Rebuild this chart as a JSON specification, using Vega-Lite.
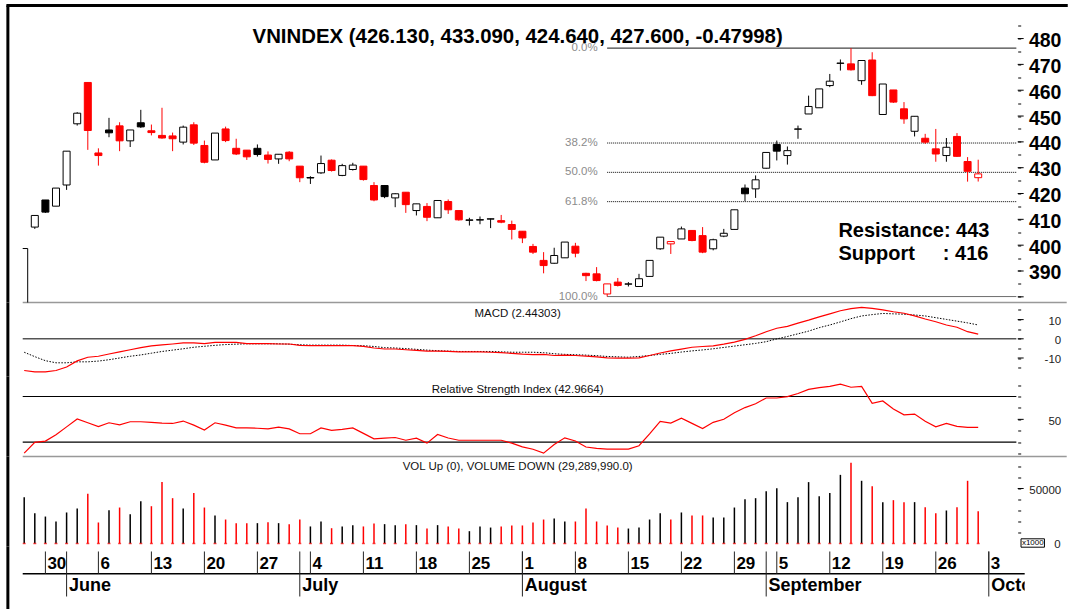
{
"$schema": "https://vega.github.io/schema/vega-lite/v6.json",
"background": "white",
"padding": {"left": 4.7, "top": 3.5, "right": 0, "bottom": 0},
"bounds": "flush",
"spacing": 0,
"config": {"view": {"stroke": null}, "font": "Liberation Sans", "axis": {"grid": false, "domain": false, "tickColor": "#000000", "tickWidth": 1, "tickSize": 3, "labelOverlap": false, "labelFlush": false, "labelBound": false}},
"resolve": {"scale": {"x": "independent", "y": "independent"}},
"datasets": {
"d": [
{"i":-2,"v":42100,"m":-16.5,"s":-7.0,"r":20.5},
{"i":-1,"o":407.0,"h":411.5,"l":406.3,"c":411.5,"v":27600,"m":-17.2,"s":-9.3,"r":29.8},
{"i":0,"o":417.5,"h":417.5,"l":412.5,"c":412.8,"v":24500,"m":-17.2,"s":-11.4,"r":31.0},
{"i":1,"o":415.1,"h":422.1,"l":415.1,"c":422.1,"v":20000,"m":-16.5,"s":-12.5,"r":36.5},
{"i":2,"o":423.3,"h":436.4,"l":421.4,"c":436.4,"v":28200,"m":-14.7,"s":-12.5,"r":43.4},
{"i":3,"o":447.0,"h":451.5,"l":446.3,"c":451.1,"v":31800,"m":-11.5,"s":-12.0,"r":50.3},
{"i":4,"o":463.0,"h":463.0,"l":436.9,"c":444.4,"v":45200,"m":-9.6,"s":-12.0,"r":47.0},
{"i":5,"o":435.7,"h":437.5,"l":430.8,"c":434.7,"v":19100,"m":-9.1,"s":-11.6,"r":43.7},
{"i":6,"o":444.6,"h":449.3,"l":441.8,"c":443.5,"v":30300,"m":-7.9,"s":-10.9,"r":47.0},
{"i":7,"o":446.2,"h":447.6,"l":436.4,"c":440.4,"v":32700,"m":-6.8,"s":-10.0,"r":45.2},
{"i":8,"o":440.4,"h":444.6,"l":438.0,"c":444.6,"v":26700,"m":-5.7,"s":-9.1,"r":47.9},
{"i":9,"o":447.4,"h":452.4,"l":445.4,"c":445.8,"v":38500,"m":-4.6,"s":-8.4,"r":47.9},
{"i":10,"o":444.3,"h":446.7,"l":442.5,"c":443.6,"v":33900,"m":-3.7,"s":-7.5,"r":47.3},
{"i":11,"o":442.5,"h":453.2,"l":441.2,"c":441.5,"v":55800,"m":-3.2,"s":-6.6,"r":46.7},
{"i":12,"o":442.3,"h":443.6,"l":436.4,"c":441.2,"v":41200,"m":-2.7,"s":-5.9,"r":46.4},
{"i":13,"o":439.9,"h":446.3,"l":439.0,"c":445.7,"v":31800,"m":-2.1,"s":-5.2,"r":48.5},
{"i":14,"o":446.6,"h":447.6,"l":438.8,"c":439.5,"v":45800,"m":-2.1,"s":-4.4,"r":44.9},
{"i":15,"o":438.6,"h":440.5,"l":431.7,"c":432.1,"v":32700,"m":-2.5,"s":-3.9,"r":40.7},
{"i":16,"o":433.0,"h":443.4,"l":433.0,"c":443.4,"v":25500,"m":-1.9,"s":-3.4,"r":47.0},
{"i":17,"o":445.0,"h":445.9,"l":439.9,"c":440.5,"v":21800,"m":-1.9,"s":-3.0,"r":44.9},
{"i":18,"o":437.5,"h":441.2,"l":434.9,"c":435.3,"v":18500,"m":-1.9,"s":-2.8,"r":42.5},
{"i":19,"o":436.8,"h":436.8,"l":433.0,"c":434.2,"v":18500,"m":-2.5,"s":-2.6,"r":42.5},
{"i":20,"o":437.5,"h":439.0,"l":434.3,"c":435.1,"v":18500,"m":-2.5,"s":-2.6,"r":42.2},
{"i":21,"o":434.9,"h":436.3,"l":431.6,"c":433.2,"v":19400,"m":-2.5,"s":-2.6,"r":41.6},
{"i":22,"o":433.4,"h":435.2,"l":431.5,"c":435.2,"v":18500,"m":-2.7,"s":-2.6,"r":43.1},
{"i":23,"o":436.0,"h":436.4,"l":432.5,"c":433.4,"v":17600,"m":-2.7,"s":-2.8,"r":41.6},
{"i":24,"o":430.6,"h":430.6,"l":424.4,"c":426.1,"v":21800,"m":-3.4,"s":-3.1,"r":37.4},
{"i":25,"o":426.0,"h":426.7,"l":423.7,"c":426.2,"v":15500,"m":-3.6,"s":-3.3,"r":37.4},
{"i":26,"o":428.0,"h":434.7,"l":427.6,"c":431.6,"v":20000,"m":-3.6,"s":-3.3,"r":42.5},
{"i":27,"o":432.9,"h":433.2,"l":428.5,"c":428.9,"v":13900,"m":-3.6,"s":-3.3,"r":40.4},
{"i":28,"o":427.0,"h":431.5,"l":426.7,"c":430.8,"v":15500,"m":-3.6,"s":-3.3,"r":41.3},
{"i":29,"o":429.3,"h":431.9,"l":428.9,"c":431.0,"v":16700,"m":-3.6,"s":-3.5,"r":42.5},
{"i":30,"o":430.6,"h":430.6,"l":425.0,"c":425.4,"v":15500,"m":-3.9,"s":-3.6,"r":37.7},
{"i":31,"o":423.1,"h":424.4,"l":417.0,"c":417.5,"v":18200,"m":-4.8,"s":-4.0,"r":32.9},
{"i":32,"o":423.1,"h":423.3,"l":418.2,"c":418.8,"v":17600,"m":-5.3,"s":-4.6,"r":33.5},
{"i":33,"o":418.3,"h":420.1,"l":414.7,"c":419.9,"v":16700,"m":-5.3,"s":-4.8,"r":34.1},
{"i":34,"o":420.5,"h":420.5,"l":412.5,"c":415.7,"v":17600,"m":-5.7,"s":-5.1,"r":31.7},
{"i":35,"o":413.4,"h":416.0,"l":411.5,"c":416.0,"v":16700,"m":-6.0,"s":-5.5,"r":33.5},
{"i":36,"o":415.0,"h":416.3,"l":409.3,"c":410.8,"v":13600,"m":-6.4,"s":-5.9,"r":29.2},
{"i":37,"o":410.6,"h":417.3,"l":410.6,"c":417.3,"v":16700,"m":-6.4,"s":-6.2,"r":36.7},
{"i":38,"o":416.9,"h":417.7,"l":412.1,"c":413.7,"v":15500,"m":-6.6,"s":-6.4,"r":33.7},
{"i":39,"o":413.4,"h":413.4,"l":409.5,"c":409.8,"v":13600,"m":-6.8,"s":-6.6,"r":31.7},
{"i":40,"o":409.6,"h":410.6,"l":407.6,"c":409.8,"v":11200,"m":-6.8,"s":-6.6,"r":31.7},
{"i":41,"o":409.7,"h":411.1,"l":408.1,"c":409.9,"v":15500,"m":-6.8,"s":-6.6,"r":31.7},
{"i":42,"o":410.1,"h":410.3,"l":406.6,"c":410.2,"v":14500,"m":-7.0,"s":-6.6,"r":31.7},
{"i":43,"o":409.5,"h":411.7,"l":408.5,"c":408.9,"v":15500,"m":-7.2,"s":-6.8,"r":31.7},
{"i":44,"o":408.0,"h":409.5,"l":402.2,"c":406.1,"v":16400,"m":-7.6,"s":-7.0,"r":29.2},
{"i":45,"o":405.4,"h":405.4,"l":400.8,"c":402.8,"v":16400,"m":-8.0,"s":-7.0,"r":25.9},
{"i":46,"o":399.5,"h":400.5,"l":396.6,"c":397.3,"v":19100,"m":-8.2,"s":-7.0,"r":23.8},
{"i":47,"o":394.1,"h":397.3,"l":389.1,"c":392.1,"v":21800,"m":-8.1,"s":-7.2,"r":20.4},
{"i":48,"o":393.0,"h":399.0,"l":392.8,"c":396.0,"v":22700,"m":-8.7,"s":-7.8,"r":27.9},
{"i":49,"o":395.1,"h":401.2,"l":395.1,"c":401.2,"v":20000,"m":-8.5,"s":-8.1,"r":33.8},
{"i":50,"o":399.6,"h":400.9,"l":395.3,"c":396.9,"v":20000,"m":-8.7,"s":-8.3,"r":31.1},
{"i":51,"o":389.1,"h":389.3,"l":386.1,"c":388.2,"v":31800,"m":-9.0,"s":-8.5,"r":25.8},
{"i":52,"o":388.9,"h":391.5,"l":386.0,"c":386.3,"v":20000,"m":-9.4,"s":-8.8,"r":24.6},
{"i":53,"o":381.1,"h":385.0,"l":380.1,"c":385.0,"v":16400,"m":-9.9,"s":-9.2,"r":24.0},
{"i":54,"o":385.7,"h":387.3,"l":384.0,"c":384.4,"v":14500,"m":-10.1,"s":-9.4,"r":24.0},
{"i":55,"o":384.9,"h":385.7,"l":384.0,"c":385.0,"v":13600,"m":-10.1,"s":-9.6,"r":24.0},
{"i":56,"o":384.0,"h":388.9,"l":384.0,"c":387.0,"v":14500,"m":-9.9,"s":-9.2,"r":26.9},
{"i":57,"o":387.9,"h":394.1,"l":387.9,"c":394.1,"v":21800,"m":-8.7,"s":-8.7,"r":37.2},
{"i":58,"o":398.6,"h":403.1,"l":398.2,"c":403.1,"v":27600,"m":-7.4,"s":-8.1,"r":48.3},
{"i":59,"o":400.5,"h":401.4,"l":396.6,"c":401.4,"v":21800,"m":-6.3,"s":-7.6,"r":46.8},
{"i":60,"o":402.4,"h":407.2,"l":402.4,"c":406.3,"v":28200,"m":-5.4,"s":-6.9,"r":51.0},
{"i":61,"o":405.7,"h":405.7,"l":401.5,"c":401.8,"v":25500,"m":-4.4,"s":-6.3,"r":46.5},
{"i":62,"o":403.7,"h":407.0,"l":396.9,"c":397.3,"v":25500,"m":-4.0,"s":-5.8,"r":42.0},
{"i":63,"o":398.6,"h":402.5,"l":398.0,"c":402.1,"v":23600,"m":-3.7,"s":-5.2,"r":47.4},
{"i":64,"o":403.5,"h":406.3,"l":403.1,"c":404.6,"v":23600,"m":-2.8,"s":-4.5,"r":50.1},
{"i":65,"o":406.1,"h":413.7,"l":406.1,"c":413.7,"v":32700,"m":-1.7,"s":-3.8,"r":55.8},
{"i":66,"o":422.1,"h":423.5,"l":417.0,"c":419.9,"v":40300,"m":-0.3,"s":-3.1,"r":60.3},
{"i":67,"o":421.8,"h":427.0,"l":418.3,"c":425.3,"v":41200,"m":1.6,"s":-2.4,"r":63.6},
{"i":68,"o":429.8,"h":435.9,"l":429.6,"c":435.9,"v":47600,"m":3.7,"s":-1.5,"r":68.7},
{"i":69,"o":439.0,"h":440.5,"l":432.8,"c":436.4,"v":50300,"m":5.5,"s":-0.05,"r":68.7},
{"i":70,"o":434.7,"h":438.2,"l":431.2,"c":436.6,"v":37600,"m":6.5,"s":1.2,"r":69.9},
{"i":71,"o":444.9,"h":446.3,"l":441.2,"c":445.0,"v":42100,"m":8.2,"s":2.6,"r":72.6},
{"i":72,"o":450.8,"h":457.9,"l":450.8,"c":453.7,"v":55800,"m":9.7,"s":4.0,"r":76.2},
{"i":73,"o":453.2,"h":460.5,"l":453.2,"c":460.5,"v":43000,"m":11.4,"s":5.8,"r":77.7},
{"i":74,"o":461.8,"h":466.3,"l":461.2,"c":463.5,"v":45800,"m":13.0,"s":7.2,"r":78.9},
{"i":75,"o":470.4,"h":471.9,"l":467.6,"c":470.5,"v":62400,"m":14.6,"s":8.8,"r":80.8},
{"i":76,"o":470.2,"h":476.3,"l":467.6,"c":467.9,"v":73300,"m":15.7,"s":10.5,"r":78.1},
{"i":77,"o":463.7,"h":471.5,"l":462.1,"c":471.5,"v":57000,"m":16.4,"s":11.9,"r":78.9},
{"i":78,"o":471.7,"h":474.7,"l":457.7,"c":457.9,"v":52100,"m":15.8,"s":12.6,"r":64.0},
{"i":79,"o":450.6,"h":462.4,"l":450.6,"c":462.4,"v":37600,"m":15.1,"s":13.2,"r":66.1},
{"i":80,"o":460.1,"h":460.1,"l":455.1,"c":455.4,"v":39400,"m":14.1,"s":13.0,"r":59.1},
{"i":81,"o":452.8,"h":455.4,"l":447.0,"c":448.9,"v":37600,"m":13.3,"s":12.8,"r":54.0},
{"i":82,"o":444.1,"h":449.9,"l":442.1,"c":449.9,"v":37600,"m":11.9,"s":12.4,"r":54.6},
{"i":83,"o":441.4,"h":443.1,"l":439.2,"c":439.9,"v":33000,"m":10.3,"s":11.9,"r":48.3},
{"i":84,"o":437.3,"h":445.0,"l":432.3,"c":435.3,"v":27600,"m":8.9,"s":11.0,"r":43.5},
{"i":85,"o":434.7,"h":441.5,"l":432.3,"c":437.9,"v":30000,"m":7.2,"s":10.1,"r":46.5},
{"i":86,"o":442.1,"h":443.4,"l":434.2,"c":434.4,"v":33000,"m":6.0,"s":9.2,"r":43.8},
{"i":87,"o":432.4,"h":434.1,"l":424.6,"c":428.6,"v":57000,"m":3.7,"s":8.3,"r":42.9},
{"i":88,"o":426.13,"h":433.09,"l":424.64,"c":427.6,"v":29290,"m":2.443,"s":7.2,"r":42.97}
],
"fib": [{"p":"0.0%","v":476.3},{"p":"38.2%","v":439.55},{"p":"50.0%","v":428.2},{"p":"61.8%","v":416.85},{"p":"100.0%","v":380.1}],
"days": [{"i":0,"t":"30"},{"i":5,"t":"6"},{"i":10,"t":"13"},{"i":15,"t":"20"},{"i":20,"t":"27"},{"i":25,"t":"4"},{"i":30,"t":"11"},{"i":35,"t":"18"},{"i":40,"t":"25"},{"i":45,"t":"1"},{"i":50,"t":"8"},{"i":55,"t":"15"},{"i":60,"t":"22"},{"i":65,"t":"29"},{"i":69,"t":"5"},{"i":74,"t":"12"},{"i":79,"t":"19"},{"i":84,"t":"26"},{"i":89,"t":"3"}],
"months": [{"i":2,"t":"June"},{"i":24,"t":"July"},{"i":45,"t":"August"},{"i":68,"t":"September"},{"i":89,"t":"October"}],
"one": [{}],
"rsilv": [{"v":70},{"v":30}],
"pmaj": [{"v":380},{"v":390},{"v":400},{"v":410},{"v":420},{"v":430},{"v":440},{"v":450},{"v":460},{"v":470},{"v":480}],
"mmaj": [{"v":-10},{"v":0},{"v":10}]
},
"vconcat": [
{
"width": 995, "height": 297,
"resolve": {"axis": {"y": "independent"}},
"layer": [
{"data": {"name": "one"}, "mark": {"type": "rule", "strokeWidth": 1.5, "color": "#999999"},
 "encoding": {"x": {"datum": -2.14, "type": "quantitative", "scale": {"domain": [-2.1415, 91.726], "nice": false, "zero": false, "padding": 0}, "axis": null}, "x2": {"datum": 96.35}, "y": {"datum": 377.8, "type": "quantitative", "scale": {"domain": [377.8, 492.8], "nice": false, "zero": false, "padding": 0},
  "axis": {"orient": "right", "values": [380,385,390,395,400,405,410,415,420,425,430,435,440,445,450,455,460,465,470,475,480,485], "labelExpr": "datum.value % 10 === 0 && datum.value >= 390 && datum.value <= 480 ? '' + datum.value : ''", "tickSize": 3, "labelFontSize": 19.5, "labelFontWeight": "bold", "labelColor": "#000000", "labelAlign": "left", "labelBaseline": "middle", "labelPadding": 7.7, "labelOffset": 2, "title": null}}}},
{"data": {"name": "pmaj"}, "mark": {"type": "rule", "strokeWidth": 1, "color": "#000000"},
 "encoding": {"x": {"datum": 91.726, "type": "quantitative"}, "x2": {"datum": 92.29}, "y": {"field": "v", "type": "quantitative", "axis": null}}},
{"data": {"name": "fib"}, "mark": {"type": "rule", "strokeWidth": 1},
 "encoding": {"x": {"datum": 53, "type": "quantitative"}, "x2": {"datum": 91.6}, "y": {"field": "v", "type": "quantitative", "axis": null},
  "strokeDash": {"condition": {"test": "datum.p === '0.0%' || datum.p === '100.0%'", "value": [1, 0]}, "value": [1, 1]},
  "color": {"condition": {"test": "datum.p === '100.0%'", "value": "#555555"}, "value": "#000000"}}},
{"data": {"name": "fib"}, "mark": {"type": "text", "align": "right", "baseline": "middle", "fontSize": 11.5, "color": "#8c8c8c"},
 "encoding": {"x": {"datum": 52.1, "type": "quantitative"}, "y": {"field": "v", "type": "quantitative", "axis": null}, "text": {"field": "p"}}},
{"data": {"name": "one"}, "mark": {"type": "rule", "strokeWidth": 1, "color": "#000000"},
 "encoding": {"x": {"datum": -1.67, "type": "quantitative"}, "y": {"datum": 377.8, "type": "quantitative", "axis": null}, "y2": {"datum": 398.7}}},
{"data": {"name": "one"}, "mark": {"type": "rule", "strokeWidth": 1, "color": "#000000"},
 "encoding": {"x": {"datum": -2.14, "type": "quantitative"}, "x2": {"datum": -1.67}, "y": {"datum": 398.7, "type": "quantitative", "axis": null}}},
{"data": {"name": "d"}, "transform": [{"window": [{"op": "lag", "param": 1, "field": "c", "as": "pc"}], "sort": [{"field": "i", "order": "ascending"}]}, {"filter": "isValid(datum.o)"}],
 "mark": {"type": "rule", "strokeWidth": 1},
 "encoding": {"x": {"field": "i", "type": "quantitative"}, "y": {"field": "l", "type": "quantitative", "axis": null}, "y2": {"field": "h"},
  "color": {"condition": {"test": "datum.c < datum.pc", "value": "#ff0000"}, "value": "#000000"}}},
{"data": {"name": "d"}, "transform": [{"window": [{"op": "lag", "param": 1, "field": "c", "as": "pc"}], "sort": [{"field": "i", "order": "ascending"}]}, {"filter": "isValid(datum.o)"}],
 "mark": {"type": "bar", "width": 7, "strokeWidth": 1, "orient": "vertical"},
 "encoding": {"x": {"field": "i", "type": "quantitative"}, "y": {"field": "o", "type": "quantitative", "axis": null}, "y2": {"field": "c"},
  "fill": {"condition": [{"test": "datum.c > datum.o", "value": "#ffffff"}, {"test": "datum.c < datum.pc", "value": "#ff0000"}], "value": "#000000"},
  "stroke": {"condition": {"test": "datum.c < datum.pc", "value": "#ff0000"}, "value": "#000000"}}},
{"data": {"name": "one"}, "mark": {"type": "text", "align": "center", "baseline": "middle", "fontSize": 20.4, "fontWeight": "bold", "color": "#000000"},
 "encoding": {"x": {"datum": 44.55, "type": "quantitative"}, "y": {"datum": 480.5, "type": "quantitative", "axis": null}, "text": {"value": "VNINDEX (426.130, 433.090, 424.640, 427.600, -0.47998)"}}},
{"data": {"name": "one"}, "mark": {"type": "text", "align": "left", "baseline": "middle", "fontSize": 20, "fontWeight": "bold", "color": "#000000"},
 "encoding": {"x": {"datum": 74.81, "type": "quantitative"}, "y": {"datum": 405.66, "type": "quantitative", "axis": null}, "text": {"value": "Resistance: 443"}}},
{"data": {"name": "one"}, "mark": {"type": "text", "align": "left", "baseline": "middle", "fontSize": 20, "fontWeight": "bold", "color": "#000000"},
 "encoding": {"x": {"datum": 74.81, "type": "quantitative"}, "y": {"datum": 396.4, "type": "quantitative", "axis": null}, "text": {"value": "Support"}}},
{"data": {"name": "one"}, "mark": {"type": "text", "align": "right", "baseline": "middle", "fontSize": 20, "fontWeight": "bold", "color": "#000000"},
 "encoding": {"x": {"datum": 88.96, "type": "quantitative"}, "y": {"datum": 396.4, "type": "quantitative", "axis": null}, "text": {"value": ": 416"}}},
{"data": {"name": "one"}, "mark": {"type": "rule", "strokeWidth": 3, "color": "#000000"},
 "encoding": {"x": {"datum": -3.68, "type": "quantitative"}, "x2": {"datum": 96.45}, "y": {"datum": 492.8, "type": "quantitative", "axis": null}}},
{"data": {"name": "one"}, "mark": {"type": "rule", "strokeWidth": 3, "color": "#000000"},
 "encoding": {"x": {"datum": -3.54, "type": "quantitative"}, "y": {"datum": 377.8, "type": "quantitative", "axis": null}, "y2": {"datum": 492.8}}}
]
},
{
"width": 995, "height": 74,
"resolve": {"axis": {"y": "independent"}},
"layer": [
{"data": {"name": "one"}, "mark": {"type": "rule", "strokeWidth": 1.5, "color": "#555555"},
 "encoding": {"x": {"datum": -2.14, "type": "quantitative", "scale": {"domain": [-2.1415, 91.726], "nice": false, "zero": false, "padding": 0}, "axis": null}, "x2": {"datum": 91.6}, "y": {"datum": 0, "type": "quantitative", "scale": {"domain": [-19.635, 18.906], "nice": false, "zero": false, "padding": 0},
  "axis": {"orient": "right", "values": [-15,-10,-5,0,5,10,15], "labelExpr": "datum.value % 10 === 0 ? '' + datum.value : ''", "tickSize": 3, "labelFontSize": 11.5, "labelColor": "#222222", "labelAlign": "right", "labelBaseline": "middle", "labelPadding": 40, "labelOffset": 2, "title": null}}}},
{"data": {"name": "mmaj"}, "mark": {"type": "rule", "strokeWidth": 1, "color": "#000000"},
 "encoding": {"x": {"datum": 91.726, "type": "quantitative"}, "x2": {"datum": 92.29}, "y": {"field": "v", "type": "quantitative", "axis": null}}},
{"data": {"name": "d"}, "mark": {"type": "line", "strokeWidth": 1, "strokeDash": [1.5, 1.5], "color": "#000000"},
 "encoding": {"x": {"field": "i", "type": "quantitative"}, "y": {"field": "s", "type": "quantitative", "axis": null}}},
{"data": {"name": "d"}, "mark": {"type": "line", "strokeWidth": 1.2, "color": "#ff0000"},
 "encoding": {"x": {"field": "i", "type": "quantitative"}, "y": {"field": "m", "type": "quantitative", "axis": null}}},
{"data": {"name": "one"}, "mark": {"type": "text", "align": "center", "baseline": "middle", "fontSize": 11.5, "color": "#111111"},
 "encoding": {"x": {"datum": 44.55, "type": "quantitative"}, "y": {"datum": 12.7, "type": "quantitative", "axis": null}, "text": {"value": "MACD (2.44303)"}}},
{"data": {"name": "one"}, "mark": {"type": "rule", "strokeWidth": 3, "color": "#000000"},
 "encoding": {"x": {"datum": -3.54, "type": "quantitative"}, "y": {"datum": -19.635, "type": "quantitative", "axis": null}, "y2": {"datum": 18.906}}}
]
},
{
"width": 995, "height": 80,
"resolve": {"axis": {"y": "independent"}},
"layer": [
{"data": {"name": "rsilv"}, "mark": {"type": "rule", "strokeWidth": 1.2, "color": "#000000"},
 "encoding": {"x": {"datum": -2.14, "type": "quantitative", "scale": {"domain": [-2.1415, 91.726], "nice": false, "zero": false, "padding": 0}, "axis": null}, "x2": {"datum": 91.6}, "y": {"field": "v", "type": "quantitative", "scale": {"domain": [17.484, 87.505], "nice": false, "zero": false, "padding": 0},
  "axis": {"orient": "right", "values": [20,30,40,50,60,70,80], "labelExpr": "datum.value === 50 ? '50' : ''", "tickSize": 3, "labelFontSize": 11.5, "labelColor": "#222222", "labelAlign": "right", "labelBaseline": "middle", "labelPadding": 40, "labelOffset": 2, "title": null}}}},
{"data": {"name": "one"}, "mark": {"type": "rule", "strokeWidth": 1, "color": "#000000"},
 "encoding": {"x": {"datum": 91.726, "type": "quantitative"}, "x2": {"datum": 92.29}, "y": {"datum": 50, "type": "quantitative", "axis": null}}},
{"data": {"name": "d"}, "mark": {"type": "line", "strokeWidth": 1.2, "color": "#ff0000"},
 "encoding": {"x": {"field": "i", "type": "quantitative"}, "y": {"field": "r", "type": "quantitative", "axis": null}}},
{"data": {"name": "one"}, "mark": {"type": "text", "align": "center", "baseline": "middle", "fontSize": 11.5, "color": "#111111"},
 "encoding": {"x": {"datum": 44.55, "type": "quantitative"}, "y": {"datum": 75.7, "type": "quantitative", "axis": null}, "text": {"value": "Relative Strength Index (42.9664)"}}},
{"data": {"name": "one"}, "mark": {"type": "rule", "strokeWidth": 1.5, "color": "#999999"},
 "encoding": {"x": {"datum": -2.14, "type": "quantitative"}, "x2": {"datum": 96.35}, "y": {"datum": 17.484, "type": "quantitative", "axis": null}}},
{"data": {"name": "one"}, "mark": {"type": "rule", "strokeWidth": 3, "color": "#000000"},
 "encoding": {"x": {"datum": -3.54, "type": "quantitative"}, "y": {"datum": 17.484, "type": "quantitative", "axis": null}, "y2": {"datum": 87.505}}}
]
},
{
"width": 995, "height": 90,
"resolve": {"axis": {"y": "independent"}},
"layer": [
{"data": {"name": "d"}, "transform": [{"window": [{"op": "lag", "param": 1, "field": "c", "as": "pc"}], "sort": [{"field": "i", "order": "ascending"}]}],
 "mark": {"type": "rule", "strokeWidth": 1.5},
 "encoding": {"x": {"field": "i", "type": "quantitative", "scale": {"domain": [-2.1415, 91.726], "nice": false, "zero": false, "padding": 0}, "axis": null},
  "y": {"field": "v", "type": "quantitative", "scale": {"domain": [-2727, 79091], "nice": false, "zero": false, "padding": 0},
   "axis": {"orient": "right", "values": [10000,20000,30000,40000,50000,60000,70000,80000], "labelExpr": "datum.value === 50000 ? '50000' : ''", "tickSize": 3, "labelFontSize": 11.5, "labelColor": "#222222", "labelAlign": "right", "labelBaseline": "middle", "labelPadding": 40, "labelOffset": 2, "title": null}},
  "y2": {"datum": 0},
  "color": {"condition": {"test": "datum.c < datum.pc", "value": "#ff0000"}, "value": "#000000"}}},
{"data": {"name": "one"}, "mark": {"type": "rule", "strokeWidth": 1, "color": "#000000"},
 "encoding": {"x": {"datum": 91.726, "type": "quantitative"}, "x2": {"datum": 92.29}, "y": {"datum": 50000, "type": "quantitative", "axis": null}}},
{"data": {"name": "d"}, "mark": {"type": "tick", "orient": "horizontal", "size": 3, "thickness": 1.5, "color": "#ff0000"},
 "encoding": {"x": {"field": "i", "type": "quantitative"}, "y": {"datum": 0, "type": "quantitative", "axis": null}}},
{"data": {"name": "one"}, "mark": {"type": "rect", "fill": "#ffffff", "stroke": "#000000", "strokeWidth": 1},
 "encoding": {"x": {"datum": 92.04, "type": "quantitative"}, "x2": {"datum": 94.25}, "y": {"datum": 4270, "type": "quantitative", "axis": null}, "y2": {"datum": -3360}}},
{"data": {"name": "one"}, "mark": {"type": "text", "align": "center", "baseline": "middle", "fontSize": 8, "color": "#000000"},
 "encoding": {"x": {"datum": 93.15, "type": "quantitative"}, "y": {"datum": 455, "type": "quantitative", "axis": null}, "text": {"value": "x1000"}}},
{"data": {"name": "one"}, "mark": {"type": "text", "align": "right", "baseline": "middle", "fontSize": 11.5, "color": "#222222"},
 "encoding": {"x": {"datum": 95.78, "type": "quantitative"}, "y": {"datum": -1300, "type": "quantitative", "axis": null}, "text": {"value": "0"}}},
{"data": {"name": "one"}, "mark": {"type": "text", "align": "center", "baseline": "middle", "fontSize": 11.5, "color": "#111111"},
 "encoding": {"x": {"datum": 44.55, "type": "quantitative"}, "y": {"datum": 69100, "type": "quantitative", "axis": null}, "text": {"value": "VOL Up (0), VOLUME DOWN (29,289,990.0)"}}},
{"data": {"name": "one"}, "mark": {"type": "rule", "strokeWidth": 3, "color": "#000000"},
 "encoding": {"x": {"datum": -3.54, "type": "quantitative"}, "y": {"datum": -2727, "type": "quantitative", "axis": null}, "y2": {"datum": 79091}}}
]
},
{
"width": 1002, "height": 63,
"layer": [
{"data": {"name": "one"}, "mark": {"type": "rule", "strokeWidth": 1.5, "color": "#000000"},
 "encoding": {"x": {"datum": -2.14, "type": "quantitative", "scale": {"domain": [-2.1415, 92.387], "nice": false, "zero": false, "padding": 0}, "axis": null}, "x2": {"datum": 92.387}, "y": {"datum": 27.3, "type": "quantitative", "scale": {"domain": [0, 63], "reverse": true, "nice": false, "zero": false, "padding": 0}, "axis": null}}},
{"data": {"name": "days"}, "mark": {"type": "rule", "strokeWidth": 1, "color": "#222222"},
 "encoding": {"x": {"field": "i", "type": "quantitative"}, "y": {"datum": 5, "type": "quantitative"}, "y2": {"datum": 27.3}}},
{"data": {"name": "months"}, "mark": {"type": "rule", "strokeWidth": 1, "color": "#222222"},
 "encoding": {"x": {"field": "i", "type": "quantitative"}, "y": {"datum": 5, "type": "quantitative"}, "y2": {"datum": 50}}},
{"data": {"name": "days"}, "mark": {"type": "text", "align": "left", "baseline": "alphabetic", "dx": 2, "fontSize": 17, "fontWeight": "bold", "color": "#000000"},
 "encoding": {"x": {"field": "i", "type": "quantitative"}, "y": {"datum": 22.3, "type": "quantitative"}, "text": {"field": "t"}}},
{"data": {"name": "months"}, "mark": {"type": "text", "align": "left", "baseline": "alphabetic", "dx": 2.4, "fontSize": 18, "fontWeight": "bold", "color": "#000000", "clip": true},
 "encoding": {"x": {"field": "i", "type": "quantitative"}, "y": {"datum": 44.7, "type": "quantitative"}, "text": {"field": "t"}}},
{"data": {"name": "one"}, "mark": {"type": "rule", "strokeWidth": 3, "color": "#000000"},
 "encoding": {"x": {"datum": -3.54, "type": "quantitative"}, "y": {"datum": 0, "type": "quantitative"}, "y2": {"datum": 63}}}
]
}
]
}
